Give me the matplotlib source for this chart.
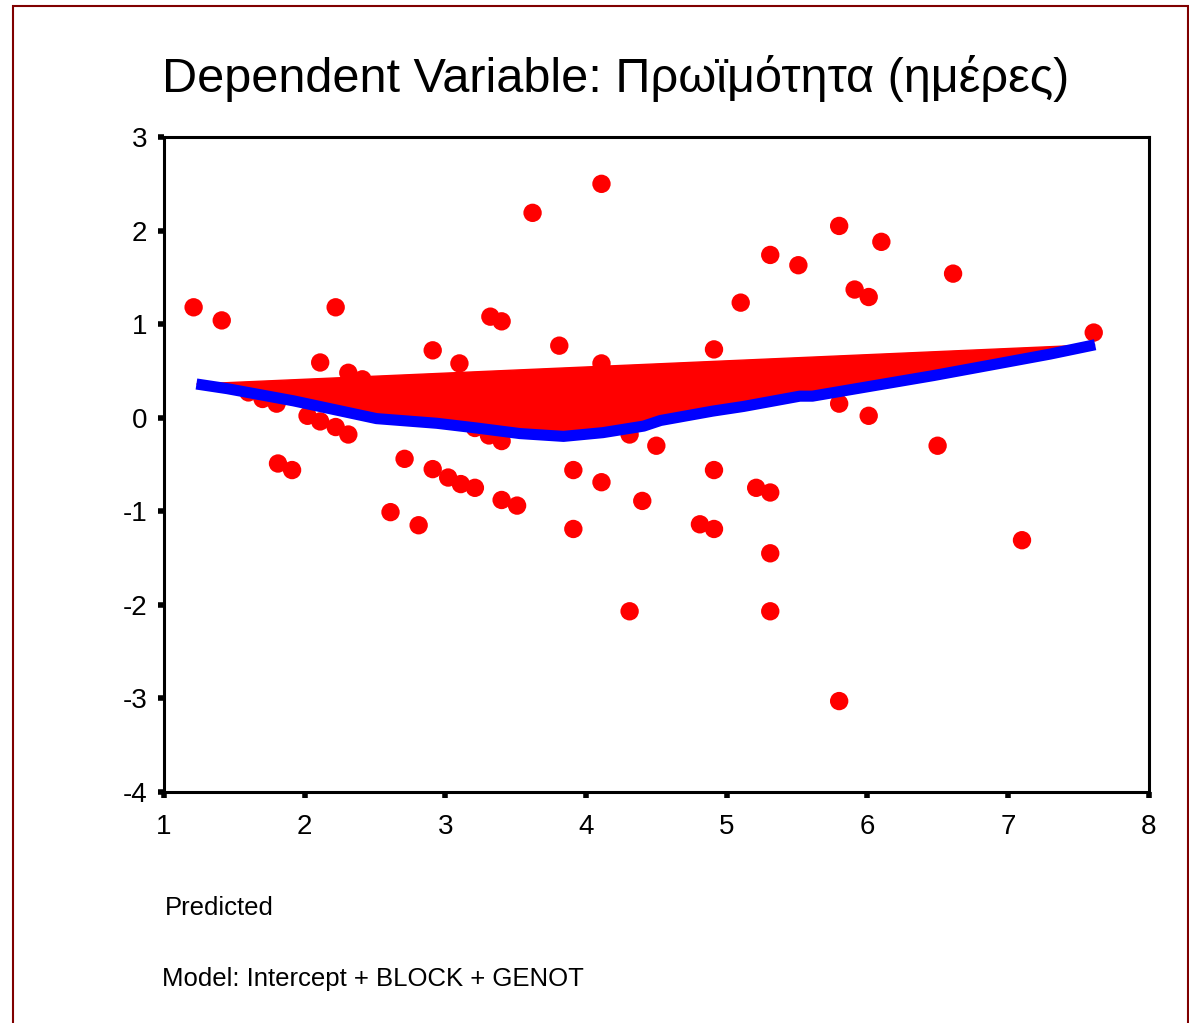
import matplotlib.pyplot as plt
from matplotlib.patches import Rectangle

plt.rcParams['font.family'] = ['Liberation Sans', 'DejaVu Sans']
plt.rcParams['axes.unicode_minus'] = False

# predicted values vs. residuals
pred = [1.21, 1.41, 2.22, 2.11, 2.31, 2.41, 1.60, 1.70, 1.80, 2.02, 2.11, 2.22, 2.31,
        1.81, 1.91, 2.71, 2.61, 2.81, 2.91, 3.10, 3.32, 3.40, 2.91, 3.02, 3.11, 3.21,
        3.21, 3.31, 3.40, 3.40, 3.51, 3.62, 3.81, 3.91, 3.91, 4.11, 4.11, 4.11, 4.31,
        4.31, 4.40, 4.50, 4.81, 4.91, 4.91, 4.91, 5.10, 5.21, 5.31, 5.31, 5.31, 5.31,
        5.51, 5.80, 5.80, 5.80, 5.91, 6.01, 6.10, 6.01, 6.50, 6.61, 7.10, 7.61]
resid = [1.18, 1.04, 1.18, 0.59, 0.48, 0.41, 0.27, 0.20, 0.15, 0.02, -0.04, -0.10, -0.18,
         -0.49, -0.56, -0.44, -1.01, -1.15, 0.72, 0.58, 1.08, 1.03, -0.55, -0.64, -0.71, -0.75,
         -0.11, -0.19, -0.25, -0.88, -0.94, 2.19, 0.77, -0.56, -1.19, 2.50, 0.58, -0.69, -0.18,
         -2.07, -0.89, -0.30, -1.14, 0.73, -0.56, -1.19, 1.23, -0.75, 1.74, -0.80, -1.45, -2.07,
         1.63, 2.05, 0.15, -3.03, 1.37, 1.29, 1.88, 0.02, -0.30, 1.54, -1.31, 0.91]

# loess curve
fit_x = [1.23, 1.45, 1.92, 2.51, 2.94, 3.22, 3.53, 3.84, 4.12, 4.41, 4.53, 4.90,
         5.12, 5.52, 5.61, 6.00, 6.47, 6.94, 7.30, 7.62]
fit_y = [0.36, 0.31, 0.18, -0.01, -0.06, -0.11, -0.17, -0.20, -0.16, -0.09, -0.03, 0.07,
         0.12, 0.23, 0.23, 0.33, 0.45, 0.58, 0.68, 0.78]

fig = plt.figure(figsize=(11.89, 10.23), dpi=100)
ax = fig.add_axes([0.138, 0.226, 0.828, 0.640])

ax.scatter(pred, resid, s=175, color='#ff0000', edgecolors='none', zorder=2)
ax.fill(fit_x, fit_y, color='#ff0000', zorder=3)
ax.plot(fit_x, fit_y, color='#0000ff', linewidth=8, solid_capstyle='butt', zorder=4)

ax.set_xlim(1, 8)
ax.set_ylim(-4, 3)
ax.set_xticks(range(1, 9))
ax.set_yticks(range(-4, 4))
for s in ax.spines.values():
    s.set_linewidth(2.2)
ax.tick_params(direction='out', length=4, width=4, labelsize=20)
ax.tick_params(axis='y', pad=8)
ax.tick_params(axis='x', pad=12)

fig.text(0.518, 0.923, 'Dependent Variable: Πρωϊμότητα (ημέρες)', fontsize=35,
         ha='center', va='center')
fig.text(0.139, 0.112, 'Predicted', fontsize=18.5, va='center')
fig.text(0.136, 0.043, 'Model: Intercept + BLOCK + GENOT', fontsize=18.5, va='center')

fig.patches.append(Rectangle((0.011, -0.05), 0.988, 1.044, transform=fig.transFigure,
                             fill=False, edgecolor='#800000', linewidth=1.5))

fig.savefig('out.png', dpi=100)
